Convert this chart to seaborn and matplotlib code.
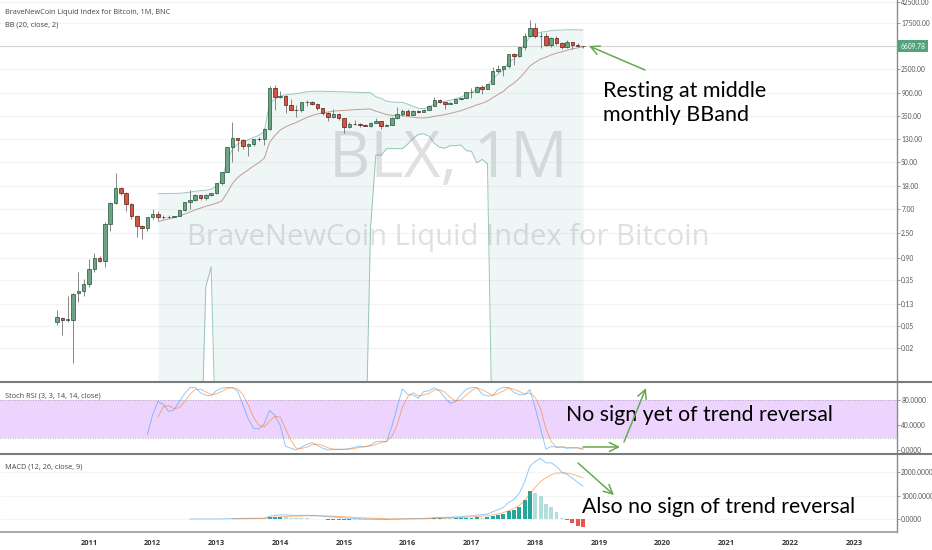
import numpy as np
import pandas as pd
import matplotlib.pyplot as plt
import seaborn as sns
from matplotlib.lines import Line2D
from matplotlib.patches import FancyArrowPatch
from matplotlib.transforms import blended_transform_factory

# ------------------------------
# 1. Monthly BLX candles, Jul 2010 .. Oct 2018
# ------------------------------
opens = [0.060, 0.070, 0.065, 0.066, 0.20, 0.22,
         0.30, 0.55, 0.90, 0.78, 3.7, 9.0, 16.5, 13.6, 8.6, 5.2, 3.4, 3.1,
         5.0, 5.6, 5.0, 4.95, 5.0, 5.15, 6.7, 9.35, 10.2, 12.4, 11.2, 12.6,
         13.5, 20.4, 33.4, 93, 139, 129, 97, 106, 135, 133, 204, 1130,
         760, 805, 560, 455, 445, 630, 640, 590, 480, 388, 338, 378,
         320, 218, 254, 244, 236, 230, 263, 284, 230, 236, 314, 377,
         430, 368, 437, 416, 448, 531, 673, 624, 575, 608, 700, 742,
         963, 970, 1190, 1080, 1350, 2300, 2480, 2875, 4700, 4340, 6450, 10000,
         14000, 10200, 10300, 6900, 9250, 7500, 6400, 7730, 7030, 6630]
highs = [0.099, 0.074, 0.18, 0.20, 0.49, 0.37,
         0.86, 1.10, 0.95, 4.1, 9.5, 32, 17.5, 14, 8.9, 5.4, 3.6, 4.8,
         7.0, 6.5, 5.4, 5.3, 5.2, 6.7, 9.5, 15.4, 12.9, 12.8, 12.9, 13.8,
         21, 33.5, 95, 266, 140, 130, 111, 135, 146, 214, 1240, 1260,
         1000, 830, 720, 545, 630, 680, 650, 600, 490, 420, 460, 390,
         320, 275, 300, 260, 250, 268, 315, 285, 245, 330, 500, 465,
         460, 440, 440, 470, 550, 780, 700, 625, 630, 720, 755, 975,
         1150, 1210, 1300, 1350, 2770, 3000, 2900, 4750, 4980, 6470, 11400, 19800,
         17200, 11800, 11700, 9750, 9950, 7750, 8500, 7750, 7400, 6750]
lows = [0.053, 0.035, 0.060, 0.0106, 0.14, 0.18,
        0.26, 0.50, 0.75, 0.60, 2.7, 8.5, 12.5, 6.5, 4.6, 2.1, 2.0, 2.8,
        4.6, 4.3, 4.6, 4.7, 4.9, 5.1, 6.5, 7.1, 9.9, 10.0, 10.0, 12.2,
        13.1, 19.1, 33, 50, 79, 88, 66, 98, 120, 103, 195, 450,
        750, 400, 440, 340, 420, 540, 560, 440, 370, 280, 320, 300,
        170, 210, 240, 215, 225, 220, 255, 200, 225, 235, 310, 345,
        350, 365, 400, 415, 440, 530, 600, 470, 570, 605, 690, 740,
        750, 940, 890, 1070, 1340, 2100, 1840, 2660, 2950, 4100, 5500, 9800,
        9200, 6000, 6600, 6400, 7050, 5800, 6100, 5900, 6300, 6200]
closes = [0.074, 0.065, 0.068, 0.195, 0.22, 0.30,
          0.55, 0.90, 0.78, 3.7, 9.0, 16.5, 13.6, 8.6, 5.2, 3.4, 3.1, 5.0,
          5.6, 5.0, 4.95, 5.0, 5.15, 6.7, 9.35, 10.2, 12.4, 11.2, 12.6, 13.5,
          20.4, 33.4, 93, 139, 129, 97, 106, 135, 133, 204, 1130, 760,
          805, 560, 455, 445, 630, 640, 590, 480, 388, 338, 378, 320,
          218, 254, 244, 236, 230, 263, 284, 230, 236, 314, 377, 430,
          368, 437, 416, 448, 531, 673, 624, 575, 608, 700, 742, 963,
          970, 1190, 1080, 1350, 2300, 2480, 2875, 4700, 4340, 6450, 10000, 14000,
          10200, 10300, 6900, 9250, 7500, 6400, 7730, 7030, 6630, 6609.78]

months = pd.date_range("2010-07-01", periods=len(closes), freq="MS")
year_labels = [str(y) for y in range(2011, 2024)]
price_ticks = [42500, 17500, 2500, 900, 350, 130, 50, 18, 7, 2.5, 0.9, 0.35, 0.13, 0.05, 0.02]
stoch_ticks = [80, 40, 0]
macd_ticks = [2000, 1000, 0]
last_price = 6609.78

df = pd.DataFrame({"time": months, "open": opens, "high": highs, "low": lows, "close": closes})
df["t"] = df["time"].dt.year + (df["time"].dt.month - 1) / 12.0
n = len(df)

# ------------------------------
# 2. Indicators (same settings as on the chart)
# ------------------------------
# Bollinger Bands (20, close, 2)
df["basis"] = df["close"].rolling(20).mean()
dev = df["close"].rolling(20).std(ddof=0)
df["upper"] = df["basis"] + 2 * dev
df["lower"] = (df["basis"] - 2 * dev).clip(lower=1e-4)   # negative -> off the log axis

# Stoch RSI (3, 3, 14, 14)
c = df["close"].values
delta = np.diff(c, prepend=np.nan)
gain = np.clip(delta, 0, None)
loss = np.clip(-delta, 0, None)
rsi = np.full(n, np.nan)
ag, al = gain[1:15].mean(), loss[1:15].mean()
rsi[14] = 100 - 100 / (1 + ag / al)
for i in range(15, n):
    ag = (ag * 13 + gain[i]) / 14
    al = (al * 13 + loss[i]) / 14
    rsi[i] = 100 - 100 / (1 + ag / al) if al > 0 else 100
r = pd.Series(rsi)
lo = r.rolling(14, min_periods=1).min()
hi = r.rolling(14, min_periods=1).max()
stoch = 100 * (r - lo) / (hi - lo).replace(0, np.nan)
df["k"] = stoch.rolling(3).mean()
df["d"] = df["k"].rolling(3).mean()


def ema(x, span):
    x = np.asarray(x, dtype=float)
    out = np.full(len(x), np.nan)
    valid = np.where(~np.isnan(x))[0]
    start = valid[0]
    out[start + span - 1] = x[start:start + span].mean()
    a = 2 / (span + 1)
    for i in range(start + span, len(x)):
        out[i] = a * x[i] + (1 - a) * out[i - 1]
    return out


# MACD (12, 26, close, 9)
df["macd"] = ema(c, 12) - ema(c, 26)
df["signal"] = ema(df["macd"].values, 9)
df["hist"] = df["macd"] - df["signal"]
hist_colors = []
prev = np.nan
for h in df["hist"]:
    if h >= 0:
        hist_colors.append("#26a69a" if (np.isnan(prev) or h > prev) else "#b2dfdb")
    else:
        hist_colors.append("#ef5350" if (np.isnan(prev) or h < prev) else "#ffcdd2")
    prev = h

# ------------------------------
# 3. Figure layout (TradingView style, pixel based)
# ------------------------------
sns.set_theme(style="white")
plt.rcParams["font.family"] = ["Open Sans", "DejaVu Sans"]

W, H = 932, 550
fig = plt.figure(figsize=(W / 100, H / 100), dpi=100)
fig.patch.set_facecolor("white")


def rect(x0, y0, x1, y1):
    return [x0 / W, 1 - y1 / H, (x1 - x0) / W, (y1 - y0) / H]


def fpt(x, y):
    return (x / W, 1 - y / H)


ax = fig.add_axes(rect(0, 0, 897, 382))
ax_st = fig.add_axes(rect(0, 382, 897, 454))
ax_md = fig.add_axes(rect(0, 454, 897, 532))

x_min, x_max = 2009.605, 2023.674
for a in (ax, ax_st, ax_md):
    a.set_xlim(x_min, x_max)
    a.set_facecolor("white")
    for s in ("left", "top", "bottom"):
        a.spines[s].set_visible(False)
    a.spines["right"].set_color("#8a8a8a")
    a.spines["right"].set_linewidth(1.0)
    a.yaxis.tick_right()
    a.tick_params(axis="y", direction="out", length=2, width=0.6, color="#8a8a8a",
                  labelsize=4.8, labelcolor="#555555", pad=1)
    a.set_xlabel("")
    a.set_ylabel("")

# ------------------------------
# 4. Main price panel
# ------------------------------
ax.set_yscale("log")
ax.set_ylim(10 ** -2.32, 10 ** 4.663)
ax.set_yticks(price_ticks)
ax.set_yticklabels([f"{v:.2f}" for v in price_ticks], family=["Lato", "DejaVu Sans"])
ax.minorticks_off()
ax.set_xticks([])
for v in price_ticks:
    ax.axhline(v, color="#f3f3f3", lw=0.8, zorder=0)

ax.text(0.5, 1 - 160 / 382, "BLX, 1M", transform=ax.transAxes, ha="center", va="center",
        fontsize=46, color="#e0e0e0", zorder=1)
ax.text(0.5, 1 - 237 / 382, "BraveNewCoin Liquid Index for Bitcoin", transform=ax.transAxes,
        ha="center", va="center", fontsize=21, color="#e0e0e0", zorder=1)

# Bollinger bands
bb = df.dropna(subset=["basis"])
ax.fill_between(bb["t"], bb["lower"], bb["upper"], color="#198787", alpha=0.07, lw=0, zorder=1)
sns.lineplot(x=bb["t"], y=bb["upper"], ax=ax, color="#3f8f86", alpha=0.5, lw=0.7, zorder=2)
sns.lineplot(x=bb["t"], y=bb["lower"], ax=ax, color="#3f8f86", alpha=0.5, lw=0.7, zorder=2)
sns.lineplot(x=bb["t"], y=bb["basis"], ax=ax, color="#a0524a", alpha=0.55, lw=0.7, zorder=2)

ax.axhline(last_price, color="#d4d4d4", lw=0.8, zorder=1)

# candles
up = df["close"] >= df["open"]
body_w = 0.055
ax.vlines(df["t"], df["low"], df["high"], color="#737375", lw=0.6, zorder=3)
bottoms = np.minimum(df["open"], df["close"])
heights = np.abs(df["close"] - df["open"])
ax.bar(df["t"], heights, bottom=bottoms, width=body_w,
       color=np.where(up, "#6ba583", "#d75442"),
       edgecolor=np.where(up, "#225437", "#5b1a13"), linewidth=0.5, zorder=4)

ax.text(1.004, last_price, f"{last_price:.2f}",
        transform=blended_transform_factory(ax.transAxes, ax.transData),
        ha="left", va="center", fontsize=4.8, color="white", zorder=10, clip_on=False,
        family=["Lato", "DejaVu Sans"],
        bbox=dict(boxstyle="square,pad=0.35", fc="#53a37c", ec="none"))

ax.set_ylabel("")

# ------------------------------
# 5. Stoch RSI panel
# ------------------------------
ax_st.set_ylim(-6.4, 108.8)
ax_st.set_yticks(stoch_ticks)
ax_st.set_yticklabels([f"{v:.4f}" for v in stoch_ticks], family=["Lato", "DejaVu Sans"])
ax_st.set_xticks([])
ax_st.axhspan(20, 80, color="#9915ff", alpha=0.18, lw=0, zorder=0)
ax_st.axhline(80, color="#9a9a9a", lw=0.6, ls=(0, (1, 2)), zorder=1)
ax_st.axhline(20, color="#9a9a9a", lw=0.6, ls=(0, (1, 2)), zorder=1)
sns.lineplot(x=df["t"], y=df["k"], ax=ax_st, color="#2196f3", alpha=0.5, lw=0.7, zorder=3)
sns.lineplot(x=df["t"], y=df["d"], ax=ax_st, color="#ff6d00", alpha=0.5, lw=0.7, zorder=3)
ax_st.set_xlabel("")
ax_st.set_ylabel("")

# ------------------------------
# 6. MACD panel
# ------------------------------
ax_md.set_ylim(-553, 2766)
ax_md.set_yticks(macd_ticks)
ax_md.set_yticklabels([f"{v:.4f}" for v in macd_ticks], family=["Lato", "DejaVu Sans"])
for v in macd_ticks:
    ax_md.axhline(v, color="#f5f5f5", lw=0.8, zorder=0)
hv = df["hist"].notna()
ax_md.bar(df.loc[hv, "t"], df.loc[hv, "hist"], width=0.062,
          color=[col for col, ok in zip(hist_colors, hv) if ok], lw=0, zorder=2)
sns.lineplot(x=df["t"], y=df["macd"], ax=ax_md, color="#2196f3", alpha=0.5, lw=0.7, zorder=3)
sns.lineplot(x=df["t"], y=df["signal"], ax=ax_md, color="#ff6d00", alpha=0.5, lw=0.7, zorder=3)
ax_md.set_xticks(range(2011, 2024))
ax_md.set_xticklabels(year_labels)
ax_md.tick_params(axis="x", length=0, labelsize=5.4, labelcolor="#333333", pad=6)
for lab in ax_md.get_xticklabels():
    lab.set_fontweight("bold")
ax_md.set_xlabel("")
ax_md.set_ylabel("")

# ------------------------------
# 7. Panel separators, legends, notes
# ------------------------------
for y in (382, 454):
    fig.add_artist(Line2D([0, 1], [1 - y / H] * 2, color="#7a7a7a", lw=1.5, transform=fig.transFigure))
fig.add_artist(Line2D([0, 897 / W], [1 - 532 / H] * 2, color="#9a9a9a", lw=1.2, transform=fig.transFigure))

small = dict(fontsize=5.3, color="#444444", va="center", ha="left")
fig.text(*fpt(5, 12), "BraveNewCoin Liquid Index for Bitcoin, 1M, BNC", **small)
fig.text(*fpt(5, 25), "BB (20, close, 2)", **small)
fig.text(*fpt(5, 396), "Stoch RSI (3, 3, 14, 14, close)", **small)
fig.text(*fpt(5, 467), "MACD (12, 26, close, 9)", **small)

note = dict(color="black", ha="left", va="center", family=["Lato", "DejaVu Sans"])
fig.text(*fpt(603, 91), "Resting at middle", fontsize=15.5, **note)
fig.text(*fpt(603, 115), "monthly BBand", fontsize=15.5, **note)
fig.text(*fpt(566, 415), "No sign yet of trend reversal", fontsize=15.3, **note)
fig.text(*fpt(582, 507), "Also no sign of trend reversal", fontsize=15.3, **note)

arrows = [((645, 70), (589, 46)), ((583, 447), (620, 447)),
          ((624, 442), (646, 388)), ((578, 463), (614, 495))]
for (x0, y0), (x1, y1) in arrows:
    fig.add_artist(FancyArrowPatch(fpt(x0, y0), fpt(x1, y1), transform=fig.transFigure,
                                   arrowstyle="->", mutation_scale=16, color="#6aa84f",
                                   lw=1.1, shrinkA=0, shrinkB=0, zorder=20))

fig.savefig("out.png", dpi=100)
